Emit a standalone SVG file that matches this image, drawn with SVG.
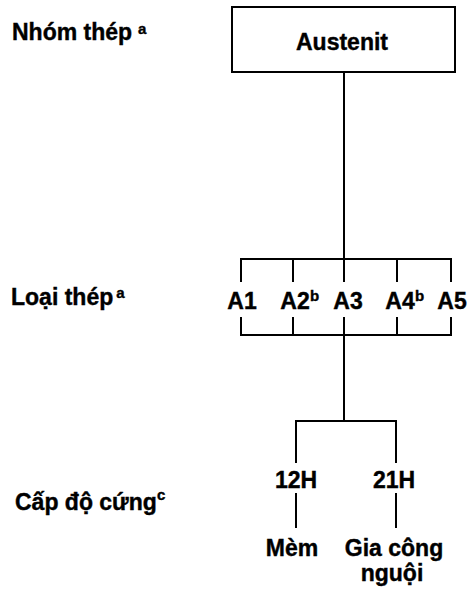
<svg xmlns="http://www.w3.org/2000/svg" width="468" height="593" viewBox="0 0 468 593">
<style>
text{font-family:"Liberation Sans",Arial,sans-serif;font-weight:bold;fill:#000;stroke:#000;stroke-width:0.4}
.t{font-size:23px}
.m{font-size:23px;text-anchor:middle}
.s{font-size:15px}
.c line,.c path{stroke:#000;stroke-width:2;fill:none}
</style>
<rect width="468" height="593" fill="#fff"/>
<g id="labels">
<text class="t" x="12" y="40">Nhóm thép<tspan class="s" dx="6" dy="-6">a</tspan></text>
<text class="t" x="11" y="305">Loại thép<tspan class="s" dx="3" dy="-7">a</tspan></text>
<text class="t" x="15" y="510">Cấp độ cứng<tspan class="s" dx="0" dy="-10">c</tspan></text>
</g>
<g id="austenit">
<rect x="232" y="7" width="223" height="65" fill="#fff" stroke="#000" stroke-width="2"/>
<text class="m" x="342" y="50">Austenit</text>
</g>
<g id="A1"><text class="m" x="242" y="309">A1</text></g>
<g id="A2"><text class="m" x="295" y="309">A2</text><text class="s" x="310" y="301">b</text></g>
<g id="A3"><text class="m" x="348" y="309">A3</text></g>
<g id="A4"><text class="m" x="400" y="309">A4</text><text class="s" x="415" y="301">b</text></g>
<g id="A5"><text class="m" x="452" y="309">A5</text></g>
<g id="h12"><text class="m" x="296" y="488">12H</text></g>
<g id="h21"><text class="m" x="394" y="488">21H</text></g>
<g id="mem"><text class="m" x="292" y="556">Mèm</text></g>
<g id="giacong"><text class="m" x="394" y="556">Gia công</text><text class="m" x="392" y="581">nguội</text></g>
<g id="connectors" class="c">
<line x1="344" y1="72" x2="344" y2="282"/>
<path d="M241 282V259H451V282M293 259V282M397 259V282"/>
<path d="M241 317V335H451V317M293 335V317M397 335V317"/>
<line x1="344" y1="317" x2="344" y2="421"/>
<path d="M296 463V421H396V463"/>
<line x1="296" y1="493" x2="296" y2="528"/>
<line x1="396" y1="493" x2="396" y2="528"/>
</g>
</svg>
